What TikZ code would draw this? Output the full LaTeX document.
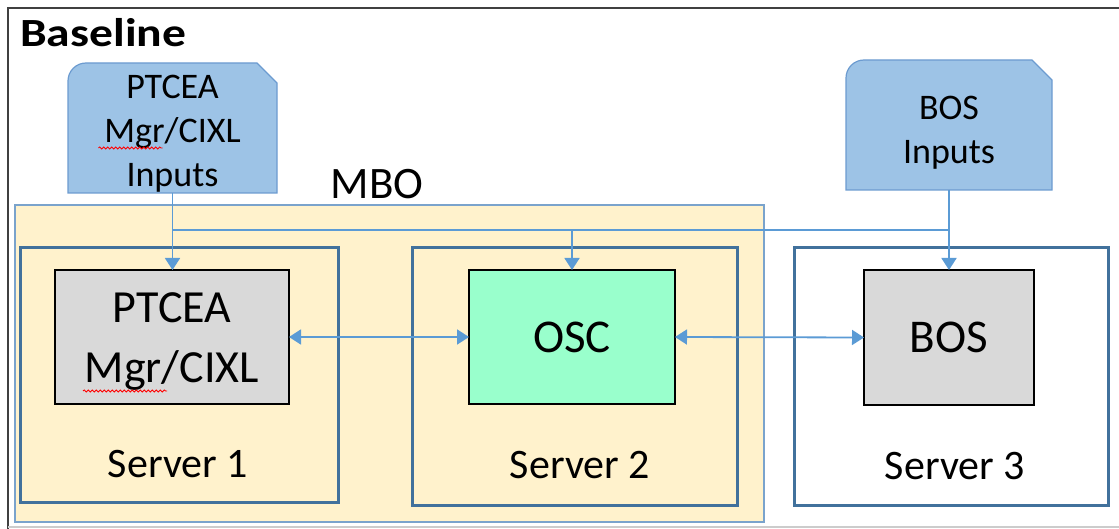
\documentclass[tikz,border=0pt]{standalone}
\usepackage{fontspec}
\setmainfont{Carlito}
\usetikzlibrary{arrows.meta,backgrounds,decorations.pathmorphing}

\definecolor{inblue}{HTML}{9DC3E6}
\definecolor{inedge}{HTML}{6C9BD0}
\definecolor{mbofill}{HTML}{FFF2CC}
\definecolor{mboedge}{HTML}{7AA3CC}
\definecolor{srvedge}{HTML}{41719C}
\definecolor{boxgray}{HTML}{D9D9D9}
\definecolor{oscfill}{HTML}{99FFCC}
\definecolor{link}{HTML}{5B9BD5}
\definecolor{frame}{HTML}{404040}

\newcommand{\fs}[1]{\fontsize{#1}{1.22\dimexpr#1pt\relax}\selectfont}

\tikzset{
  box/.style={rectangle, inner sep=0pt, outer sep=0pt, align=center},
  inshape/.style={fill=inblue, draw=inedge, line width=1.2pt},
  inputs/.style={box, font=\fs{36}},
  mbobox/.style={box, fill=mbofill, draw=mboedge, line width=1.6pt},
  server/.style={box, draw=srvedge, line width=3pt},
  unit/.style={box, draw=black, line width=1.6pt, font=\fs{47}},
  srvlabel/.style={font=\fs{42}},
  feed/.style={draw=link, line width=1.8pt, -{Triangle[width=15pt,length=12pt]}},
  bus/.style={draw=link, line width=1.5pt},
  duplex/.style={draw=link, line width=1.8pt, {Triangle[width=15pt,length=12pt]}-{Triangle[width=15pt,length=12pt]}},
  squiggle/.style={draw=red, line width=0.8pt, decorate,
    decoration={snake, segment length=4pt, amplitude=1.1pt}},
}

\begin{document}
\begin{tikzpicture}[x=1pt, y=-1pt]
  \useasboundingbox (0,0) rectangle (1119,529);

  % outer frame
  \draw[frame, line width=2pt] (8,529) -- (8,8) -- (1121,8);
  \draw[gray!40, line width=1.2pt] (8,527) -- (1121,527);

  % title
  \node[anchor=base west, inner sep=0pt, font=\fs{40}\bfseries] (title) at (20,47)
    {\scalebox{1.19}[1]{Baseline}};

  % input documents
  \node[box, minimum width=209pt, minimum height=130pt] (pin) at (172.5,128) {};
  \node[box, minimum width=206pt, minimum height=130pt] (bin) at (949,125) {};
  \foreach \n in {pin,bin}{
    \draw[inshape] (\n.south west) -- ([yshift=-18pt]\n.north west)
      arc[start angle=180, end angle=90, radius=18pt]
      -- ([xshift=-20pt]\n.north east) -- ([yshift=-20pt]\n.north east)
      -- (\n.south east) -- cycle;
  }
  \node[inputs] (pintext) at ([yshift=-6pt]pin.center) {PTCEA\\Mgr/CIXL\\Inputs};
  \node[inputs] (bintext) at ([yshift=-8pt]bin.center) {BOS\\Inputs};

  % MBO group and servers
  \node[mbobox, minimum width=749pt, minimum height=317pt] (mbo) at (389.5,363.5) {};
  \node[font=\fs{45}] (mbolabel) at (377,184) {MBO};

  \node[server, minimum width=318pt, minimum height=254pt] (s1) at (179,375) {};
  \node[server, minimum width=325pt, minimum height=257pt] (s2) at (574.5,376.5) {};
  \node[server, fill=white, minimum width=314pt, minimum height=257pt] (s3) at (951,376.5) {};

  \node[srvlabel] (s1l) at (178,464) {Server 1};
  \node[srvlabel] (s2l) at (580,465) {Server 2};
  \node[srvlabel] (s3l) at (955,466) {Server 3};

  % applications
  \node[unit, fill=boxgray, minimum width=234pt, minimum height=134pt] (ptc) at (172,337) {};
  \node[box, font=\fs{46}\linespread{1.07}\selectfont] (ptctext)
    at ([yshift=-5pt]ptc.center) {PTCEA\\Mgr/CIXL};
  \node[unit, fill=oscfill, minimum width=206pt, minimum height=134pt] (osc) at (572,337) {OSC};
  \node[unit, fill=boxgray, minimum width=170pt, minimum height=135pt] (bos) at (949,337.5) {BOS};

  % spell-check marks under "Mgr"
  \draw[squiggle] ([xshift=-74pt,yshift=-14pt]pintext.center) -- ([xshift=-10pt,yshift=-14pt]pintext.center);
  \draw[squiggle] ([xshift=-89pt,yshift=-49pt]ptctext.center) -- ([xshift=-5pt,yshift=-49pt]ptctext.center);

  % input feeds
  \coordinate (busy) at (0,230);
  \draw[bus] (pin.south |- busy) -- (bin.south |- busy);
  \draw[feed] (pin.south) -- (pin.south |- ptc.north);
  \draw[feed] (osc.north |- busy) -- (osc.north);
  \draw[feed] (bin.south) -- (bin.south |- bos.north);

  % data exchange
  \draw[duplex] (ptc.east) -- (osc.west);
  \draw[duplex] (osc.east) -- (bos.west);
\end{tikzpicture}
\end{document}
